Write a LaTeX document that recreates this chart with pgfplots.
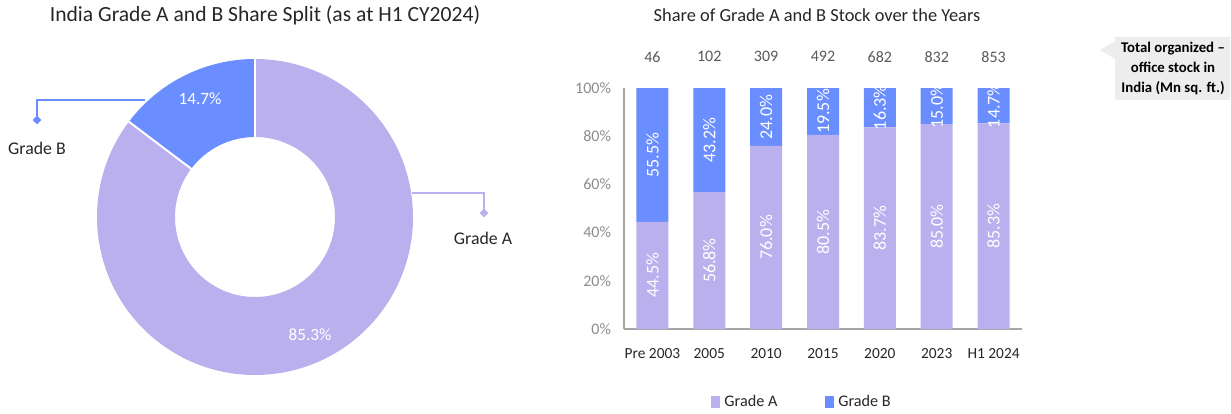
\documentclass[border=0pt]{standalone}
\usepackage{fontspec}
\setmainfont{Carlito}
\usepackage{pgfplots}
\usepackage{pgfplotstable}
\pgfplotsset{compat=1.18}
\usetikzlibrary{shapes.geometric}

\definecolor{gradeA}{HTML}{BBB0EE}
\definecolor{gradeB}{HTML}{6A8EFF}
\definecolor{axisgray}{HTML}{A6A6A6}
\definecolor{tickgray}{HTML}{8C8C8C}
\definecolor{numgray}{HTML}{595959}
\definecolor{txt}{HTML}{262626}
\definecolor{calloutbg}{HTML}{EDEDED}

\newcommand\fs[1]{\fontsize{#1}{1.2\dimexpr#1\relax}\selectfont}

% donut shares (H1 CY2024)
\def\shareA{85.3}
\def\shareB{14.7}

% share of stock by year: x, grade A, grade B, total stock (Mn sq. ft.)
\pgfplotstableread{
x A B total
0 44.5 55.5 46
1 56.8 43.2 102
2 76.0 24.0 309
3 80.5 19.5 492
4 83.7 16.3 682
5 85.0 15.0 832
6 85.3 14.7 853
}\stock

% segment label positions (midpoints of each segment)
\pgfplotstableread{
x y lab
0 22.25 44.5
1 28.4 56.8
2 38.0 76.0
3 40.25 80.5
4 41.85 83.7
5 42.5 85.0
6 42.65 85.3
0 72.25 55.5
1 78.4 43.2
2 88.0 24.0
3 90.25 19.5
4 91.85 16.3
5 92.5 15.0
6 92.65 14.7
}\seglabels

\begin{document}
\begin{tikzpicture}
\path[use as bounding box] (0,0) rectangle (615.5pt,206.5pt);

% ---------- titles
\node[text=txt,font=\fs{10.8pt}] at (132.5pt,199pt) {India Grade A and B Share Split (as at H1 CY2024)};
\node[text=txt,font=\fs{9.2pt}] at (408.5pt,199pt) {Share of Grade A and B Stock over the Years};

% ---------- donut
\begin{axis}[at={(127.5pt,98pt)},anchor=origin,hide axis,scale only axis,
  x=1pt,y=1pt,xmin=-100,xmax=100,ymin=-100,ymax=100,clip=false]
\pgfmathsetmacro\angB{90+\shareB*3.6}
\coordinate (c) at (axis cs:0,0);
\fill[gradeB] ([shift={(90:79pt)}]c) arc[start angle=90,end angle=\angB,radius=79pt]
  -- ([shift={(\angB:40pt)}]c) arc[start angle=\angB,end angle=90,radius=40pt] -- cycle;
\fill[gradeA] ([shift={(\angB:79pt)}]c) arc[start angle=\angB,end angle=450,radius=79pt]
  -- ([shift={(90:40pt)}]c) arc[start angle=450,end angle=\angB,radius=40pt] -- cycle;
\draw[white,line width=1pt] ([shift={(90:39pt)}]c) -- ([shift={(90:80pt)}]c);
\draw[white,line width=1pt] ([shift={(\angB:39pt)}]c) -- ([shift={(\angB:80pt)}]c);
\node[white,font=\fs{8.6pt}] at (axis cs:-27.5,59) {\shareB\%};
\node[white,font=\fs{8.6pt}] at (axis cs:27.5,-59) {\shareA\%};
\end{axis}

% leader lines and labels
\draw[gradeB,line width=0.8pt] (72.5pt,156.5pt) -- (18.5pt,156.5pt) -- (18.5pt,147pt);
\node[diamond,fill=gradeB,inner sep=0pt,minimum size=4.5pt] at (18.5pt,146.5pt) {};
\node[text=txt,font=\fs{8.9pt}] at (18.5pt,132.5pt) {Grade B};
\draw[gradeA,line width=0.8pt] (206pt,110pt) -- (242pt,110pt) -- (242pt,100.5pt);
\node[diamond,fill=gradeA,inner sep=0pt,minimum size=4.5pt] at (242pt,100pt) {};
\node[text=txt,font=\fs{8.9pt}] at (241.5pt,87.5pt) {Grade A};

% ---------- stacked bars
\pgfplotsset{barframe/.style={at={(312pt,42pt)},anchor=south west,scale only axis,
  width=199pt,height=120.5pt,xmin=-0.5,xmax=6.5,ymin=0,ymax=100,clip=false}}
\begin{axis}[barframe,
  ybar stacked,bar width=16pt,
  axis x line*=bottom,axis y line*=left,
  axis line style={draw=axisgray,line width=0.6pt,-},
  major tick length=0pt,
  xtick={0,...,6},
  xticklabels={Pre 2003,2005,2010,2015,2020,2023,H1 2024},
  x tick label style={text=txt,font=\fs{7.7pt},yshift=-6pt},
  ytick={0,20,...,100},
  yticklabel={\pgfmathprintnumber{\tick}\%},
  y tick label style={text=tickgray,font=\fs{8pt},xshift=-3pt},
  /pgf/number format/assume math mode=true,
  legend columns=2,
  legend style={draw=none,fill=none,at={(0.45,-0.303)},anchor=center,
    font=\fs{8.1pt},text=txt,
    /tikz/every even column/.append style={column sep=22pt}},
  legend image code/.code={\fill[#1] (0pt,-2.8pt) rectangle (4.5pt,2.8pt);},
]
\addplot[fill=gradeA,draw=none] table[x=x,y=A] {\stock};
\addlegendentry{Grade A}
\addplot[fill=gradeB,draw=none] table[x=x,y=B] {\stock};
\addlegendentry{Grade B}
\end{axis}

% overlay: segment labels and totals above bars
\begin{axis}[barframe,hide axis]
\addplot[only marks,mark=none,point meta=explicit symbolic,
  nodes near coords={\pgfplotspointmeta\%},
  nodes near coords style={white,rotate=90,anchor=center,font=\fs{9pt}}]
  table[x=x,y=y,meta=lab] {\seglabels};
\addplot[only marks,mark=none,point meta=explicit symbolic,
  nodes near coords,
  nodes near coords style={text=numgray,anchor=center,font=\fs{8pt}}]
  table[x=x,y expr=113,meta=total] {\stock};
\end{axis}

% callout
\fill[calloutbg] (550pt,181.5pt) -- (557.5pt,186pt) -- (557.5pt,188pt) -- (615pt,188pt)
  -- (615pt,156.5pt) -- (557.5pt,156.5pt) -- (557.5pt,177pt) -- cycle;
\node[align=center,font=\fs{7.4pt}\bfseries,text=black,inner sep=0pt,
  execute at begin node=\setlength{\baselineskip}{10pt}] at (586.5pt,172.5pt)
  {Total organized --\\office stock in\\India (Mn sq. ft.)};
\end{tikzpicture}
\end{document}
